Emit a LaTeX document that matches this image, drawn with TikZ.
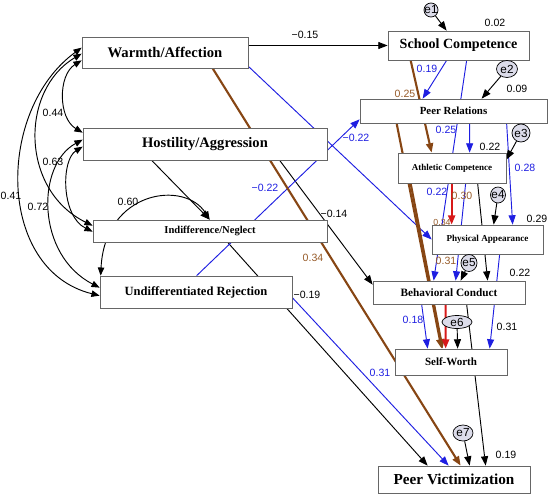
\documentclass[tikz,border=0pt]{standalone}
\usepackage{fontspec}
\setmainfont{Liberation Serif}
\setsansfont{Liberation Sans}
\usepackage{tikz}
\usetikzlibrary{arrows.meta,positioning,calc,shapes.geometric,backgrounds}

\definecolor{pathblue}{RGB}{30,30,225}
\definecolor{pathbrown}{RGB}{135,70,20}
\definecolor{pathred}{RGB}{215,25,25}
\definecolor{labbrown}{RGB}{150,90,40}
\definecolor{errfill}{RGB}{220,220,234}

\begin{document}
\begin{tikzpicture}[x=0.03cm, y=-0.03cm,
  var/.style={draw=black!60, fill=white, line width=0.6pt, inner sep=0pt},
  err/.style={ellipse, draw=black, fill=errfill, line width=0.6pt, inner sep=0pt,
    font=\sffamily\fontsize{10}{10}\selectfont},
  coef/.style={inner sep=0.5pt, font=\sffamily\fontsize{9}{10}\selectfont},
  tip/.style={-{Triangle[length=8pt,width=6pt]}},
  blk/.style={tip, line width=0.8pt, draw=black},
  blu/.style={tip, line width=0.8pt, draw=pathblue},
  brn/.style={tip, line width=1.8pt, draw=pathbrown},
  rd/.style={tip, line width=1.8pt, draw=pathred},
  cov/.style={{Triangle[length=7pt,width=5.5pt]}-{Triangle[length=7pt,width=5.5pt]}, line width=0.8pt}
]
  \useasboundingbox (0,0) rectangle (550,498);
  % rejection scales
  \node[var, minimum width=4.98cm, minimum height=0.93cm, font=\bfseries\fontsize{12.5}{14}\selectfont] (warmth) at (165,52.5) {Warmth/Affection};
  \node[var, minimum width=7.32cm, minimum height=0.96cm, font=\bfseries\fontsize{12.4}{14}\selectfont] (hostil) at (205,144) {Hostility/Aggression};
  \node[var, minimum width=7.02cm, minimum height=0.66cm, font=\bfseries\fontsize{9}{11}\selectfont] (indiff) at (210,231) {Indifference/Neglect};
  \node[var, minimum width=5.76cm, minimum height=0.96cm, font=\bfseries\fontsize{10.7}{12}\selectfont] (undiff) at (196,292) {Undifferentiated Rejection};
  % self-concept domains and outcome
  \node[var, minimum width=4.23cm, minimum height=0.87cm, font=\bfseries\fontsize{12}{14}\selectfont] (school) at (458.5,45.5) {School Competence};
  \node[var, minimum width=5.61cm, minimum height=0.72cm, font=\bfseries\fontsize{9.3}{11}\selectfont] (peer) at (453.5,111) {Peer Relations};
  \node[var, minimum width=3.24cm, minimum height=0.90cm, font=\bfseries\fontsize{7.7}{9}\selectfont] (athl) at (452,168) {Athletic Competence};
  \node[var, minimum width=3.33cm, minimum height=0.87cm, font=\bfseries\fontsize{7.8}{9}\selectfont] (phys) at (487.5,239.5) {Physical Appearance};
  \node[var, minimum width=4.56cm, minimum height=0.69cm, font=\bfseries\fontsize{9.6}{11}\selectfont] (behav) at (449,292.5) {Behavioral Conduct};
  \node[var, minimum width=3.36cm, minimum height=0.78cm, font=\bfseries\fontsize{9.4}{11}\selectfont] (selfw) at (451,362) {Self-Worth};
  \node[var, minimum width=4.56cm, minimum height=0.81cm, font=\bfseries\fontsize{13}{15}\selectfont] (victim) at (454,479.5) {Peer Victimization};
  % error terms
  \node[err, minimum width=0.42cm, minimum height=0.42cm] (e1) at (431,10) {\makebox[0pt]{e1}};
  \node[err, minimum width=0.63cm, minimum height=0.51cm] (e2) at (507,69) {\makebox[0pt]{e2}};
  \node[err, minimum width=0.54cm, minimum height=0.54cm] (e3) at (521,133) {\makebox[0pt]{e3}};
  \node[err, minimum width=0.45cm, minimum height=0.48cm] (e4) at (498,195) {\makebox[0pt]{e4}};
  \node[err, minimum width=0.48cm, minimum height=0.51cm] (e5) at (469,263) {\makebox[0pt]{e5}};
  \node[err, minimum width=0.90cm, minimum height=0.39cm] (e6) at (457,322) {\makebox[0pt]{e6}};
  \node[err, minimum width=0.60cm, minimum height=0.48cm] (e7) at (463,433) {\makebox[0pt]{e7}};

  \begin{scope}[on background layer]
    % covariances
    \draw[cov] ($(warmth.south west)+(0,-8)$) .. controls (58,75) and (58,118) .. ($(hostil.north west)+(0,5)$);
    \draw[cov] ($(warmth.north west)+(0,17)$) .. controls (20,90) and (20,190) .. ($(indiff.north west)+(0,6)$);
    \draw[cov] ($(warmth.north west)+(0,11)$) .. controls (-4,110) and (-4,270) .. ($(undiff.north west)+(0,20)$);
    \draw[cov] ($(hostil.north west)+(0,12)$) .. controls (36,165) and (36,255) .. ($(undiff.north west)+(0,12)$);
    \draw[cov] ($(hostil.north west)+(0,19)$) .. controls (61,160) and (61,216) .. ($(indiff.north west)+(0,12)$);
    \draw[cov] ($(undiff.north west)+(1,0)$) .. controls (105,190) and (185,180) .. ($(indiff.north west)+(117,0)$);
    % rejection -> domains, victimization
    \draw[blk] (school.west -| warmth.east) -- (school.west);
    \draw[blk] ($(hostil.south west)+(197,0)$) -- ($(behav.north west)+(0,4)$);
    \draw[blk] ($(hostil.south west)+(69,0)$) -- ($(indiff.north west)+(117,0)$);
    \draw[blk] ($(indiff.south west)+(135,0)$) -- ($(victim.north west)+(50,0)$);
    \draw[blu] ($(warmth.south east)+(0,-2)$) -- (phys.west);
    \draw[blu] ($(undiff.north west)+(97,0)$) -- ($(peer.south west)+(0,-4)$);
    \draw[blu] ($(undiff.north east)+(0,22)$) -- ($(victim.north west)+(71,0)$);
    \draw[brn] ($(warmth.south west)+(131,0)$) -- ($(victim.north west)+(83,0)$);
    % among domains
    \draw[blu] ($(school.south west)+(59,0)$) -- ($(peer.north west)+(63,0)$);
    \draw[blu] ($(school.south west)+(79,0)$) -- ($(behav.north west)+(61,0)$);
    \draw[brn] ($(school.south west)+(23,0)$) -- ($(athl.north west)+(34,0)$);
    \draw[blu] ($(peer.south west)+(110,0)$) -- ($(athl.north west)+(72,0)$);
    \draw[blu] ($(peer.south west)+(147,0)$) -- ($(phys.north west)+(81,0)$);
    \draw[brn] ($(peer.south west)+(37,0)$) -- ($(selfw.north west)+(47,0)$);
    \draw[brn] ($(athl.south west)+(13,0)$) -- ($(selfw.north west)+(48,0)$);
    \draw[rd] ($(athl.south west)+(54,0)$) -- ($(phys.north west)+(20,0)$);
    \draw[blu] ($(athl.south west)+(68,0)$) -- ($(behav.north west)+(83,0)$);
    \draw[blk] ($(athl.south west)+(80,0)$) -- ($(behav.north west)+(115,0)$);
    \draw[blu] ($(phys.south west)+(68,0)$) -- ($(selfw.north west)+(95,0)$);
    \draw[blu] ($(behav.south west)+(49,0)$) -- ($(selfw.north west)+(33,0)$);
    \draw[rd] ($(behav.south west)+(73,0)$) -- ($(selfw.north west)+(51,0)$);
    \draw[blk] ($(behav.south west)+(94,0)$) -- ($(victim.north west)+(108,0)$);
    % residuals
    \draw[blk] (e1) -- ($(school.north west)+(59,0)$);
    \draw[blk] (e2) -- ($(peer.north west)+(122,0)$);
    \draw[blk] (e3) -- ($(athl.north east)+(0,7)$);
    \draw[blk] (e4) -- ($(phys.north west)+(62,0)$);
    \draw[blk] (e5) -- ($(behav.north west)+(88,0)$);
    \draw[blk] (e6) -- ($(selfw.north west)+(63,0)$);
    \draw[blk] (e7) -- ($(victim.north west)+(92,0)$);
  \end{scope}

  % coefficients
  \node[coef] (c44) at (53,113) {0.44};
  \node[coef] (c63) at (53,162) {0.63};
  \node[coef] (c41) at (11,196) {0.41};
  \node[coef] (c72) at (38,207) {0.72};
  \node[coef] (c60) at (128,202) {0.60};
  \node[coef] (c15) at (305,35) {−0.15};
  \node[coef] (c14) at (334,214) {−0.14};
  \node[coef] (c19) at (307,295) {−0.19};
  \node[coef, text=pathblue] (c22a) at (356,138) {−0.22};
  \node[coef, text=pathblue] (c22b) at (265,188) {−0.22};
  \node[coef, text=pathblue] (c31a) at (380,373) {0.31};
  \node[coef, text=labbrown] (c34a) at (313,258) {0.34};
  \node[coef, text=pathblue] (c19b) at (427,69) {0.19};
  \node[coef, text=labbrown] (c25a) at (405,94) {0.25};
  \node[coef, text=pathblue] (c25b) at (446,130) {0.25};
  \node[coef, text=pathblue] (c28) at (525,168) {0.28};
  \node[coef, text=pathblue] (c22c) at (437,192) {0.22};
  \node[coef, text=labbrown] (c30) at (462,196) {0.30};
  \node[coef, text=labbrown, font=\sffamily\fontsize{7.5}{8}\selectfont] (c34b) at (442,222) {0.34};
  \node[coef, text=labbrown] (c31b) at (446,261) {0.31};
  \node[coef, text=pathblue] (c18) at (413,320) {0.18};
  % explained variance
  \node[coef] (r1) at (495,23) {0.02};
  \node[coef] (r2) at (517,89) {0.09};
  \node[coef] (r3) at (490,147) {0.22};
  \node[coef] (r4) at (537,219) {0.29};
  \node[coef] (r5) at (520,273) {0.22};
  \node[coef] (r6) at (507,327) {0.31};
  \node[coef] (r7) at (506,455) {0.19};
\end{tikzpicture}
\end{document}
